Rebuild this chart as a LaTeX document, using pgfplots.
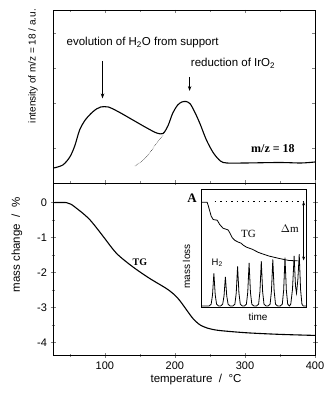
\documentclass[border=0pt]{standalone}
\usepackage{fontspec}
\setmainfont{Liberation Sans}
\newfontfamily\serif{Liberation Serif}
\usepackage{pgfplots}
\pgfplotsset{compat=1.18}
\usetikzlibrary{arrows.meta}
\begin{document}
\begin{tikzpicture}
\path[use as bounding box] (0,0) rectangle (328pt,395pt);
% ---------- top panel ----------
\begin{axis}[
  at={(53pt,212pt)}, anchor=south west, scale only axis,
  width=262pt, height=173pt,
  xmin=26, xmax=400, ymin=0, ymax=173,
  xtick={100,200,300}, xticklabels={}, minor xtick={50,150,250,350},
  ytick={35,80,115,150}, yticklabels={},
  tick align=inside, major tick length=3pt, minor tick length=2pt,
  axis line style={line width=0.9pt},
  clip=false,
]
\addplot[black, line width=1.1pt, smooth, tension=0.5] coordinates {
(27,15)(40,18)(50,26)(57,37)(64,53)(72,63)(81,70)(88,74)(94,76)(105,76)
(120,71)(140,63)(160,55)(174,50)(183,49.5)(190,57)(197,70)(204,78)(210,81)
(216,81.5)(222,79)(229,70)(236,59)(245,43)(255,30)(265,22)(274,20)(300,20)
(350,20.5)(380,20)(400,21)};
\addplot[black, densely dotted, line width=0.5pt, smooth] coordinates {
(143,17)(155,23)(164,30)(172,38)(183,48)};
\draw[-{Stealth[length=5pt,width=3.5pt]}, line width=0.7pt] (axis cs:96.7,122) -- (axis cs:96.7,84.5);
\draw[-{Stealth[length=5pt,width=3.5pt]}, line width=0.7pt] (axis cs:221,106) -- (axis cs:221,92);
\node[font=\fontsize{11.5}{13}\selectfont] at (axis cs:154,140) {evolution of H\textsubscript{2}O from support};
\node[font=\fontsize{11.5}{13}\selectfont] at (axis cs:283,120) {reduction of IrO\textsubscript{2}};
\node[font=\serif\bfseries\fontsize{12}{14}\selectfont] at (axis cs:340,34) {m/z = 18};
\end{axis}
% ---------- bottom panel ----------
\begin{axis}[
  at={(53pt,39.3pt)}, anchor=south west, scale only axis,
  width=262pt, height=172.7pt,
  xmin=26, xmax=400, ymin=-4.38, ymax=0.56,
  xtick={100,200,300,400}, minor xtick={50,150,250,350},
  ytick={0,-1,-2,-3,-4}, yticklabels={0,-1,-2,-3,-4},
  minor ytick={-0.5,-1.5,-2.5,-3.5},
  /pgf/number format/assume math mode=true,
  tick align=center, major tick length=5pt, minor tick length=3pt,
  tick label style={font=\fontsize{11}{13}\selectfont},
  axis line style={line width=0.9pt},
  clip=false,
]
\addplot[black, line width=1.1pt, smooth, tension=0.5] coordinates {
(27,0)(45,0)(52,-0.05)(60,-0.17)(70,-0.33)(79,-0.5)(90,-0.77)(100,-1.03)
(117,-1.46)(140,-1.84)(164,-2.17)(188,-2.46)(200,-2.65)(208,-2.83)(217,-3.08)
(226,-3.32)(236,-3.5)(248,-3.6)(260,-3.65)(280,-3.69)(307,-3.73)(350,-3.77)(400,-3.8)};
\node[font=\serif\bfseries\fontsize{10}{12}\selectfont] at (axis cs:150,-1.7) {TG};
\end{axis}
% ---------- inset ----------
\begin{axis}[
  at={(201pt,88pt)}, anchor=south west, scale only axis,
  width=105pt, height=118pt,
  xmin=0, xmax=310, ymin=0, ymax=340,
  xtick=\empty, ytick=\empty,
  axis line style={line width=0.7pt},
  axis background/.style={fill=white},
  clip=false,
]
\addplot[black, line width=0.8pt] coordinates {
(0,302)(18,302)(22,290)(30,262)(36,252)(48,250)(55,238)(65,227)(80,222)(86,212)
(92,200)(100,192)(110,187)(118,184)(125,178)(135,172)(150,167)(170,157)(200,147)
(230,140)(260,134)(285,133)};
\addplot[black, dash pattern=on 1.5pt off 4pt, line width=0.5pt] coordinates {(40,304)(300,304)};
\addplot[black, line width=0.8pt] coordinates {
(0,3)(24,3)(30,8)(34,35)(38,97)(42,35)(46,8)(52,3)
(58,3)(64,8)(68,32)(72,87)(76,32)(80,8)(86,3)
(94,3)(100,8)(104,40)(108,117)(112,40)(116,8)(122,3)
(128,3)(134,8)(138,42)(142,127)(146,42)(150,8)(156,3)
(164,3)(170,8)(174,44)(178,132)(182,44)(186,8)(192,3)
(198,3)(204,8)(208,46)(212,137)(216,46)(220,8)(226,3)
(234,3)(240,8)(244,48)(248,142)(252,48)(256,8)(261,3)
(265,8)(270,50)(275,147)(279,60)(282,40)(286,80)(290,152)(294,50)(298,8)(302,3)(310,3)};
\draw[{Stealth[length=4pt,width=3pt]}-{Stealth[length=4pt,width=3pt]}, line width=0.6pt] (axis cs:303,304) -- (axis cs:303,134);
\node[font=\serif\fontsize{11}{13}\selectfont] at (axis cs:140,212) {TG};
\node[font=\serif\fontsize{11}{13}\selectfont] at (axis cs:262,224) {$\Delta$m};
\node[font=\fontsize{9.5}{11}\selectfont] at (axis cs:48,127) {H\textsubscript{2}};
\end{axis}
% ---------- labels ----------
\node[font=\serif\bfseries\fontsize{13}{15}\selectfont] at (192pt,196.5pt) {A};
\node[rotate=90, font=\fontsize{10}{12}\selectfont] at (186.5pt,128.5pt) {mass loss};
\node[font=\fontsize{10}{12}\selectfont] at (258pt,78.5pt) {time};
\node[font=\fontsize{11.5}{13}\selectfont] at (196pt,15pt) {temperature~~/~~°C};
\node[rotate=90, font=\fontsize{11.5}{13}\selectfont] at (17pt,150pt) {mass change~~/~~\%};
\node[rotate=90, font=\fontsize{10}{12}\selectfont] at (33pt,329pt) {intensity of m/z = 18~/~a.u.};
\end{tikzpicture}
\end{document}
